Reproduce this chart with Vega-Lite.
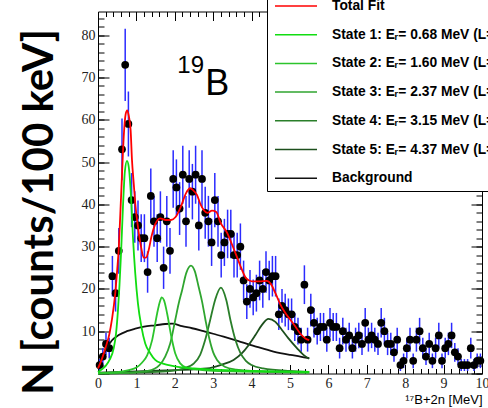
{
"$schema": "https://vega.github.io/schema/vega-lite/v6.json",
"width": 384, "height": 362,
"autosize": {"type": "none"},
"padding": {"left": 98, "top": 11.5, "right": 6, "bottom": 34.5},
"background": "white",
"config": {"view": {"stroke": null}, "axis": {"grid": false, "labelFont": "Liberation Serif", "labelFontSize": 14, "labelColor": "#222222", "tickColor": "black", "domainColor": "black", "labelFlush": false, "labelOverlap": false}},
"datasets": {
"pts": [
{"x":0.0417,"n":2,"e":1.41},{"x":0.125,"n":4,"e":2},{"x":0.2083,"n":7,"e":2.65},{"x":0.2917,"n":6,"e":2.45},{"x":0.375,"n":23,"e":4.8},{"x":0.4583,"n":19,"e":4.36},{"x":0.5417,"n":29,"e":5.39},{"x":0.625,"n":53,"e":7.28},{"x":0.7083,"n":73,"e":8.54},{"x":0.7917,"n":59,"e":7.68},{"x":0.875,"n":41,"e":6.4},{"x":0.9583,"n":37,"e":6.08},
{"x":1.0417,"n":35,"e":5.92},{"x":1.125,"n":32,"e":5.66},{"x":1.2083,"n":32,"e":5.66},{"x":1.2917,"n":24,"e":4.9},{"x":1.375,"n":42,"e":6.48},{"x":1.4583,"n":36,"e":6},{"x":1.5417,"n":32,"e":5.66},{"x":1.625,"n":37,"e":6.08},{"x":1.7083,"n":25,"e":5},{"x":1.7917,"n":36,"e":6},{"x":1.875,"n":29,"e":5.39},{"x":1.9583,"n":46,"e":6.78},
{"x":2.0417,"n":44,"e":6.63},{"x":2.125,"n":39,"e":6.24},{"x":2.2083,"n":47,"e":6.86},{"x":2.2917,"n":36,"e":6},{"x":2.375,"n":46,"e":6.78},{"x":2.4583,"n":43,"e":6.56},{"x":2.5417,"n":47,"e":6.86},{"x":2.625,"n":35,"e":5.92},{"x":2.7083,"n":46,"e":6.78},{"x":2.7917,"n":38,"e":6.16},{"x":2.875,"n":36,"e":6},{"x":2.9583,"n":31,"e":5.57},
{"x":3.0417,"n":41,"e":6.4},{"x":3.125,"n":36,"e":6},{"x":3.2083,"n":28,"e":5.29},{"x":3.2917,"n":31,"e":5.57},{"x":3.375,"n":33,"e":5.74},{"x":3.4583,"n":33,"e":5.74},{"x":3.5417,"n":28,"e":5.29},{"x":3.625,"n":28,"e":5.29},{"x":3.7083,"n":30,"e":5.48},{"x":3.7917,"n":22,"e":4.69},{"x":3.875,"n":17,"e":4.12},{"x":3.9583,"n":20,"e":4.47},
{"x":4.0417,"n":18,"e":4.24},{"x":4.125,"n":19,"e":4.36},{"x":4.2083,"n":22,"e":4.69},{"x":4.2917,"n":20,"e":4.47},{"x":4.375,"n":24,"e":4.9},{"x":4.4583,"n":22,"e":4.69},{"x":4.5417,"n":23,"e":4.8},{"x":4.625,"n":23,"e":4.8},{"x":4.7083,"n":14,"e":3.74},{"x":4.7917,"n":16,"e":4},{"x":4.875,"n":15,"e":3.87},{"x":4.9583,"n":14,"e":3.74},
{"x":5.0417,"n":14,"e":3.74},{"x":5.125,"n":11,"e":3.32},{"x":5.2083,"n":10,"e":3.16},{"x":5.2917,"n":8,"e":2.83},{"x":5.375,"n":21,"e":4.58},{"x":5.4583,"n":8,"e":2.83},{"x":5.5417,"n":15,"e":3.87},{"x":5.625,"n":12,"e":3.46},{"x":5.7083,"n":10,"e":3.16},{"x":5.7917,"n":11,"e":3.32},{"x":5.875,"n":11,"e":3.32},{"x":5.9583,"n":8,"e":2.83},
{"x":6.0417,"n":12,"e":3.46},{"x":6.125,"n":11,"e":3.32},{"x":6.2083,"n":11,"e":3.32},{"x":6.2917,"n":6,"e":2.45},{"x":6.375,"n":10,"e":3.16},{"x":6.4583,"n":8,"e":2.83},{"x":6.5417,"n":9,"e":3},{"x":6.625,"n":6,"e":2.45},{"x":6.7083,"n":8,"e":2.83},{"x":6.7917,"n":9,"e":3},{"x":6.875,"n":7,"e":2.65},{"x":6.9583,"n":12,"e":3.46},
{"x":7.0417,"n":8,"e":2.83},{"x":7.125,"n":9,"e":3},{"x":7.2083,"n":8,"e":2.83},{"x":7.2917,"n":7,"e":2.65},{"x":7.375,"n":12,"e":3.46},{"x":7.4583,"n":10,"e":3.16},{"x":7.5417,"n":7,"e":2.65},{"x":7.625,"n":7,"e":2.65},{"x":7.7083,"n":5,"e":2.24},{"x":7.7917,"n":8,"e":2.83},{"x":7.875,"n":2,"e":1.41},{"x":7.9583,"n":3,"e":1.73},
{"x":8.0417,"n":6,"e":2.45},{"x":8.125,"n":8,"e":2.83},{"x":8.2083,"n":3,"e":1.73},{"x":8.2917,"n":8,"e":2.83},{"x":8.375,"n":10,"e":3.16},{"x":8.4583,"n":6,"e":2.45},{"x":8.5417,"n":4,"e":2},{"x":8.625,"n":7,"e":2.65},{"x":8.7083,"n":3,"e":1.73},{"x":8.7917,"n":6,"e":2.45},{"x":8.875,"n":9,"e":3},{"x":8.9583,"n":3,"e":1.73},
{"x":9.0417,"n":6,"e":2.45},{"x":9.125,"n":7,"e":2.65},{"x":9.2083,"n":9,"e":3},{"x":9.2917,"n":5,"e":2.24},{"x":9.375,"n":4,"e":2},{"x":9.4583,"n":2,"e":1.41},{"x":9.5417,"n":2,"e":1.41},{"x":9.625,"n":2,"e":1.41},{"x":9.7083,"n":6,"e":2.45},{"x":9.7917,"n":2,"e":1.41},{"x":9.875,"n":3,"e":1.73},{"x":9.9583,"n":3,"e":1.73}
],
"crv": [
{"s":"BG","x":0,"y":1.2},{"s":"BG","x":0.1,"y":3.5},{"s":"BG","x":0.2,"y":5.5},{"s":"BG","x":0.36,"y":7.8},{"s":"BG","x":0.54,"y":9.1},{"s":"BG","x":0.75,"y":10},{"s":"BG","x":0.97,"y":10.6},{"s":"BG","x":1.2,"y":11.1},{"s":"BG","x":1.5,"y":11.4},{"s":"BG","x":1.75,"y":11.7},{"s":"BG","x":1.93,"y":11.8},{"s":"BG","x":2.19,"y":11.2},{"s":"BG","x":2.45,"y":10.7},{"s":"BG","x":2.75,"y":10},{"s":"BG","x":3,"y":9.4},{"s":"BG","x":3.27,"y":8.7},{"s":"BG","x":3.71,"y":7.5},{"s":"BG","x":4.14,"y":6.3},{"s":"BG","x":4.57,"y":5.2},{"s":"BG","x":5.01,"y":4.4},{"s":"BG","x":5.27,"y":4},{"s":"BG","x":5.5,"y":3.6},
{"s":"S5","x":0,"y":0.2},{"s":"S5","x":1,"y":0.5},{"s":"S5","x":2,"y":0.8},{"s":"S5","x":2.5,"y":1},{"s":"S5","x":2.84,"y":1.2},{"s":"S5","x":3.19,"y":2},{"s":"S5","x":3.53,"y":3.2},{"s":"S5","x":3.75,"y":4.8},{"s":"S5","x":3.92,"y":6.7},{"s":"S5","x":4.1,"y":9.1},{"s":"S5","x":4.27,"y":11.5},{"s":"S5","x":4.44,"y":12.9},{"s":"S5","x":4.62,"y":12.2},{"s":"S5","x":4.79,"y":10.3},{"s":"S5","x":4.96,"y":8.3},{"s":"S5","x":5.18,"y":6},{"s":"S5","x":5.35,"y":4.4},{"s":"S5","x":5.5,"y":3.5},
{"s":"S4","x":0,"y":0},{"s":"S4","x":1,"y":0.2},{"s":"S4","x":1.8,"y":0.5},{"s":"S4","x":2.2,"y":1.1},{"s":"S4","x":2.5,"y":2.4},{"s":"S4","x":2.66,"y":4.4},{"s":"S4","x":2.79,"y":7.9},{"s":"S4","x":2.92,"y":12.6},{"s":"S4","x":3.05,"y":17.4},{"s":"S4","x":3.2,"y":20.3},{"s":"S4","x":3.34,"y":17.4},{"s":"S4","x":3.45,"y":12.6},{"s":"S4","x":3.58,"y":7.9},{"s":"S4","x":3.71,"y":4.8},{"s":"S4","x":3.85,"y":3},{"s":"S4","x":4,"y":2},{"s":"S4","x":4.3,"y":1.2},{"s":"S4","x":5,"y":0.6},{"s":"S4","x":5.5,"y":0.4},
{"s":"S3","x":0,"y":0},{"s":"S3","x":1,"y":0.3},{"s":"S3","x":1.3,"y":0.6},{"s":"S3","x":1.6,"y":2},{"s":"S3","x":1.75,"y":4},{"s":"S3","x":1.88,"y":7.1},{"s":"S3","x":2.01,"y":12.6},{"s":"S3","x":2.1,"y":16.5},{"s":"S3","x":2.19,"y":19.7},{"s":"S3","x":2.3,"y":23.8},{"s":"S3","x":2.42,"y":25.5},{"s":"S3","x":2.52,"y":24.2},{"s":"S3","x":2.62,"y":20.5},{"s":"S3","x":2.71,"y":17},{"s":"S3","x":2.8,"y":12.6},{"s":"S3","x":2.9,"y":8.2},{"s":"S3","x":3,"y":5},{"s":"S3","x":3.1,"y":3.2},{"s":"S3","x":3.3,"y":1.6},{"s":"S3","x":3.6,"y":0.9},{"s":"S3","x":4,"y":0.6},{"s":"S3","x":5,"y":0.3},{"s":"S3","x":5.5,"y":0.2},
{"s":"S2","x":0,"y":0.1},{"s":"S2","x":0.5,"y":0.3},{"s":"S2","x":0.8,"y":0.8},{"s":"S2","x":1,"y":1.4},{"s":"S2","x":1.15,"y":2.6},{"s":"S2","x":1.28,"y":4.3},{"s":"S2","x":1.41,"y":7.9},{"s":"S2","x":1.54,"y":14.2},{"s":"S2","x":1.6,"y":16.6},{"s":"S2","x":1.66,"y":18},{"s":"S2","x":1.72,"y":17.3},{"s":"S2","x":1.8,"y":14.2},{"s":"S2","x":1.91,"y":8.7},{"s":"S2","x":2.01,"y":4.8},{"s":"S2","x":2.14,"y":2.4},{"s":"S2","x":2.3,"y":1.4},{"s":"S2","x":2.6,"y":0.9},{"s":"S2","x":3,"y":0.6},{"s":"S2","x":4,"y":0.4},{"s":"S2","x":5.5,"y":0.2},
{"s":"S1","x":0,"y":0.3},{"s":"S1","x":0.1,"y":1},{"s":"S1","x":0.2,"y":1.8},{"s":"S1","x":0.3,"y":3.2},{"s":"S1","x":0.41,"y":6},{"s":"S1","x":0.47,"y":9.5},{"s":"S1","x":0.52,"y":15},{"s":"S1","x":0.56,"y":21},{"s":"S1","x":0.6,"y":28.4},{"s":"S1","x":0.65,"y":39.4},{"s":"S1","x":0.7,"y":47.8},{"s":"S1","x":0.755,"y":50.3},{"s":"S1","x":0.8,"y":48.9},{"s":"S1","x":0.86,"y":41.8},{"s":"S1","x":0.91,"y":32.3},{"s":"S1","x":0.97,"y":23.7},{"s":"S1","x":1.04,"y":16.6},{"s":"S1","x":1.13,"y":11.1},{"s":"S1","x":1.23,"y":7.1},{"s":"S1","x":1.36,"y":4.8},{"s":"S1","x":1.49,"y":3.2},{"s":"S1","x":1.67,"y":2.4},{"s":"S1","x":2,"y":1.7},{"s":"S1","x":2.5,"y":1.2},{"s":"S1","x":3,"y":0.9},{"s":"S1","x":4,"y":0.6},{"s":"S1","x":5.5,"y":0.4},
{"s":"T","x":0,"y":1.2},{"s":"T","x":0.1,"y":3.4},{"s":"T","x":0.2,"y":6.2},{"s":"T","x":0.3,"y":9.5},{"s":"T","x":0.36,"y":12.6},{"s":"T","x":0.45,"y":19},{"s":"T","x":0.5,"y":24.5},{"s":"T","x":0.54,"y":29.5},{"s":"T","x":0.58,"y":37.5},{"s":"T","x":0.625,"y":47},{"s":"T","x":0.67,"y":56},{"s":"T","x":0.72,"y":61.3},{"s":"T","x":0.76,"y":62.2},{"s":"T","x":0.8,"y":61},{"s":"T","x":0.85,"y":57.5},{"s":"T","x":0.885,"y":50.5},{"s":"T","x":0.93,"y":45},{"s":"T","x":0.97,"y":40.2},{"s":"T","x":1.04,"y":34.7},{"s":"T","x":1.12,"y":30},{"s":"T","x":1.19,"y":27.4},{"s":"T","x":1.25,"y":27.4},{"s":"T","x":1.32,"y":29.2},{"s":"T","x":1.39,"y":32.3},{"s":"T","x":1.49,"y":35.3},{"s":"T","x":1.62,"y":36.7},{"s":"T","x":1.76,"y":36.3},{"s":"T","x":1.9,"y":36.3},{"s":"T","x":2.02,"y":37},{"s":"T","x":2.16,"y":39.5},{"s":"T","x":2.29,"y":42.6},{"s":"T","x":2.4,"y":43.8},{"s":"T","x":2.49,"y":43.2},{"s":"T","x":2.58,"y":42.2},{"s":"T","x":2.66,"y":40.2},{"s":"T","x":2.75,"y":38.7},{"s":"T","x":2.85,"y":38},{"s":"T","x":2.97,"y":38.5},{"s":"T","x":3.08,"y":38.2},{"s":"T","x":3.19,"y":35.7},{"s":"T","x":3.36,"y":33.3},{"s":"T","x":3.49,"y":30.5},{"s":"T","x":3.62,"y":27.5},{"s":"T","x":3.75,"y":24.5},{"s":"T","x":3.86,"y":22.5},{"s":"T","x":4.01,"y":21.8},{"s":"T","x":4.2,"y":21.8},{"s":"T","x":4.4,"y":21.9},{"s":"T","x":4.5,"y":21.2},{"s":"T","x":4.62,"y":19},{"s":"T","x":4.75,"y":16.3},{"s":"T","x":4.88,"y":14.3},{"s":"T","x":5.01,"y":12.7},{"s":"T","x":5.14,"y":11.1},{"s":"T","x":5.27,"y":9.4},{"s":"T","x":5.4,"y":8.3},{"s":"T","x":5.5,"y":7.9}
],
"l19": [{"x":2.065,"y":71,"t":"19"}],
"lB": [{"x":2.79,"y":65.8,"t":"B"}]
},
"resolve": {"axis": {"x": "independent", "y": "independent"}},
"layer": [
{
"data": {"name": "pts"},
"mark": {"type": "errorbar", "color": "#2b2bff", "thickness": 1.5},
"encoding": {
"x": {"field": "x", "type": "quantitative", "scale": {"domain": [0, 10], "nice": false, "zero": false},
"axis": {"orient": "bottom", "values": [0,0.2,0.4,0.6,0.8,1,1.2,1.4,1.6,1.8,2,2.2,2.4,2.6,2.8,3,3.2,3.4,3.6,3.8,4,4.2,4.4,4.6,4.8,5,5.2,5.4,5.6,5.8,6,6.2,6.4,6.6,6.8,7,7.2,7.4,7.6,7.8,8,8.2,8.4,8.6,8.8,9,9.2,9.4,9.6,9.8,10], "ticks": true, "tickSize": -5, "labels": false, "domain": false, "title": null}},
"y": {"field": "n", "type": "quantitative", "scale": {"domain": [0, 85.6], "nice": false, "zero": false},
"axis": {"orient": "left", "values": [0,2,4,6,8,10,12,14,16,18,20,22,24,26,28,30,32,34,36,38,40,42,44,46,48,50,52,54,56,58,60,62,64,66,68,70,72,74,76,78,80,82,84], "ticks": true, "tickSize": -6, "labels": false, "domain": false, "title": null}},
"yError": {"field": "e"}
}
},
{
"data": {"name": "pts"},
"mark": {"type": "circle", "size": 60, "color": "black", "opacity": 1},
"encoding": {
"x": {"field": "x", "type": "quantitative", "scale": {"domain": [0, 10], "nice": false, "zero": false},
"axis": {"orient": "bottom", "values": [0,1,2,3,4,5,6,7,8,9,10], "ticks": false, "labels": true, "labelPadding": 3, "domain": true, "title": "¹⁷B+2n [MeV]", "titleFont": "Liberation Sans", "titleFontSize": 13, "titleFontWeight": "normal", "titleColor": "black", "titleAnchor": "end", "titleAlign": "right", "titleX": 384, "titleY": 29.5, "titleBaseline": "alphabetic"}},
"y": {"field": "n", "type": "quantitative", "scale": {"domain": [0, 85.6], "nice": false, "zero": false},
"axis": {"orient": "left", "values": [10,20,30,40,50,60,70,80], "ticks": false, "labels": true, "labelPadding": 3, "domain": true, "title": "N [counts/100 keV]", "titleFont": "Lato", "titleFontSize": 42, "titleFontWeight": "bold", "titleColor": "black", "titleAngle": 270, "titleAlign": "center", "titleBaseline": "alphabetic", "titleX": -46, "titleY": 200}}
}
},
{
"data": {"name": "crv"},
"mark": {"type": "line", "strokeWidth": 1.8, "interpolate": "monotone"},
"encoding": {
"x": {"field": "x", "type": "quantitative", "scale": {"domain": [0, 10], "nice": false, "zero": false},
"axis": {"orient": "top", "values": [0,1,2,3,4,5,6,7,8,9,10], "ticks": true, "tickSize": -9, "labels": false, "domain": true, "title": null}},
"y": {"field": "y", "type": "quantitative", "scale": {"domain": [0, 85.6], "nice": false, "zero": false},
"axis": {"orient": "right", "values": [0,10,20,30,40,50,60,70,80], "ticks": true, "tickSize": -11, "labels": false, "domain": true, "title": null}},
"color": {"field": "s", "type": "nominal",
"scale": {"domain": ["T","S1","S2","S3","S4","S5","BG"], "range": ["#ff0000","#11dd11","#2cc42c","#2fa52f","#2a7f2a","#1c4f1c","#111111"]},
"legend": {"orient": "none", "legendX": 169, "legendY": -17.5, "title": null, "symbolType": "stroke", "symbolSize": 1764, "symbolStrokeWidth": 1.5, "symbolOffset": 5, "labelOffset": 14, "clipHeight": 20, "rowPadding": 8.7, "padding": 2, "strokeColor": "black", "fillColor": "white", "labelFont": "Liberation Sans", "labelFontSize": 13.8, "labelFontWeight": "bold", "labelColor": "black", "labelLimit": 400, "zindex": 1,
"labelExpr": "datum.label == 'T' ? 'Total Fit' : datum.label == 'S1' ? 'State 1: Eᵣ= 0.68 MeV (L=2)' : datum.label == 'S2' ? 'State 2: Eᵣ= 1.60 MeV (L=0)' : datum.label == 'S3' ? 'State 3: Eᵣ= 2.37 MeV (L=0)' : datum.label == 'S4' ? 'State 4: Eᵣ= 3.15 MeV (L=0)' : datum.label == 'S5' ? 'State 5: Eᵣ= 4.37 MeV (L=0)' : 'Background'"}}
}
},
{
"data": {"name": "l19"},
"mark": {"type": "text", "align": "left", "baseline": "alphabetic", "font": "Liberation Sans", "fontSize": 24, "color": "black"},
"encoding": {
"x": {"field": "x", "type": "quantitative", "scale": {"domain": [0, 10], "nice": false, "zero": false},
"axis": {"orient": "top", "values": [0,0.2,0.4,0.6,0.8,1,1.2,1.4,1.6,1.8,2,2.2,2.4,2.6,2.8,3,3.2,3.4,3.6,3.8,4,4.2,4.4,4.6,4.8,5,5.2,5.4,5.6,5.8,6,6.2,6.4,6.6,6.8,7,7.2,7.4,7.6,7.8,8,8.2,8.4,8.6,8.8,9,9.2,9.4,9.6,9.8,10], "ticks": true, "tickSize": -5, "labels": false, "domain": false, "title": null}},
"y": {"field": "y", "type": "quantitative", "scale": {"domain": [0, 85.6], "nice": false, "zero": false},
"axis": {"orient": "right", "values": [0,2,4,6,8,10,12,14,16,18,20,22,24,26,28,30,32,34,36,38,40,42,44,46,48,50,52,54,56,58,60,62,64,66,68,70,72,74,76,78,80,82,84], "ticks": true, "tickSize": -6, "labels": false, "domain": false, "title": null}},
"text": {"field": "t"}
}
},
{
"data": {"name": "lB"},
"mark": {"type": "text", "align": "left", "baseline": "alphabetic", "font": "Liberation Sans", "fontSize": 36, "color": "black"},
"encoding": {
"x": {"field": "x", "type": "quantitative", "scale": {"domain": [0, 10], "nice": false, "zero": false},
"axis": {"orient": "bottom", "values": [0,1,2,3,4,5,6,7,8,9,10], "ticks": true, "tickSize": -9, "labels": false, "domain": false, "title": null}},
"y": {"field": "y", "type": "quantitative", "scale": {"domain": [0, 85.6], "nice": false, "zero": false},
"axis": {"orient": "left", "values": [0,10,20,30,40,50,60,70,80], "ticks": true, "tickSize": -11, "labels": false, "domain": false, "title": null}},
"text": {"field": "t"}
}
}
]
}
